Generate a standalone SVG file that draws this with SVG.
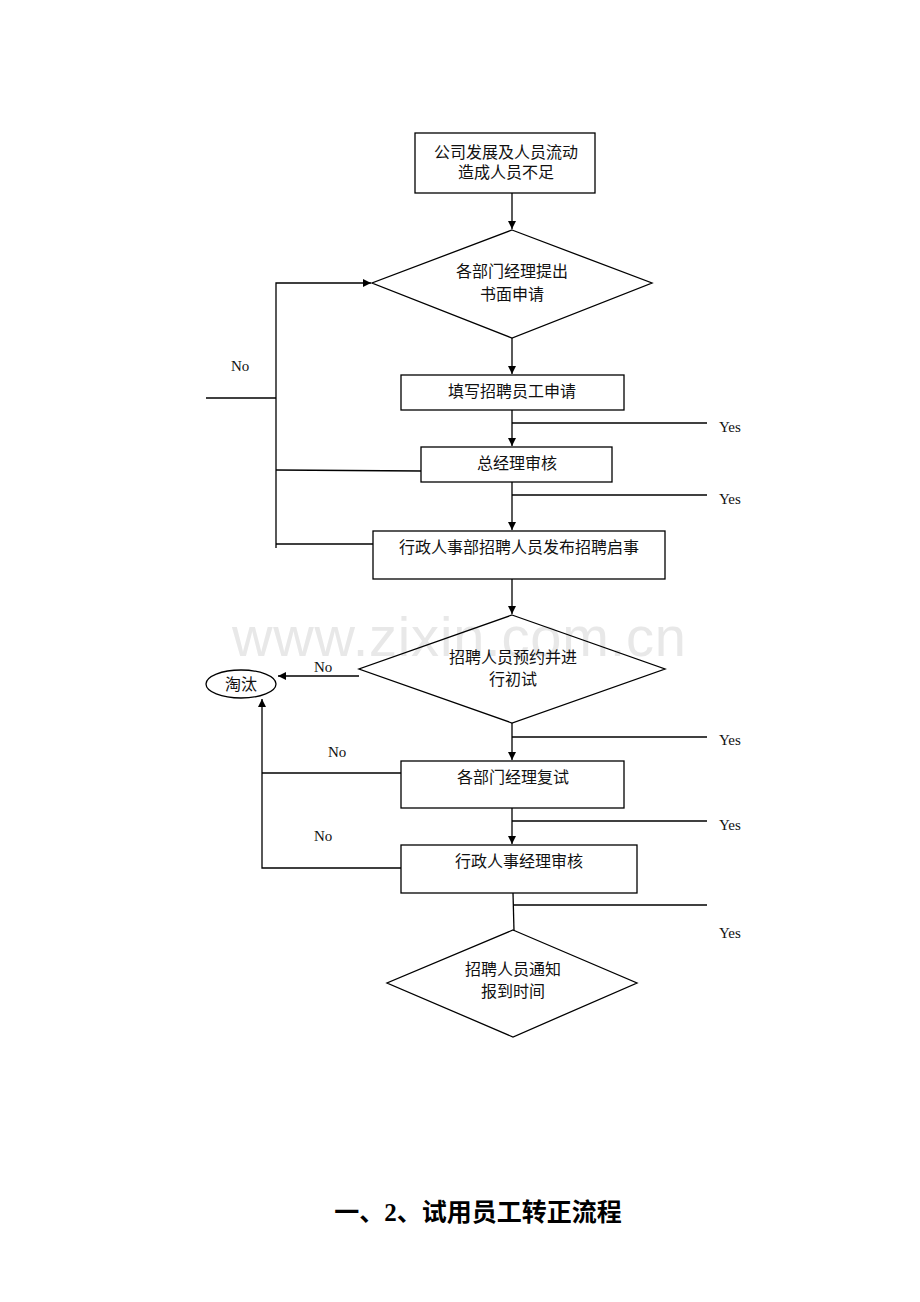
<svg xmlns="http://www.w3.org/2000/svg" width="920" height="1302" viewBox="0 0 920 1302">
<style>
.s{fill:none;stroke:#000;stroke-width:1.3}
.l{fill:none;stroke:#000;stroke-width:1.3}
.t{font-family:"Liberation Serif","Noto Sans CJK SC",serif;font-size:16px;fill:#111;text-anchor:middle}
.e{font-family:"Liberation Serif",serif;font-size:15px;fill:#111}
.wm{font-family:"Liberation Sans",Arial,sans-serif;font-size:56px;fill:#e8e8e8}
</style>
<defs>
<marker id="a" viewBox="0 0 10 10" refX="10" refY="5" markerWidth="8" markerHeight="8" markerUnits="userSpaceOnUse" orient="auto"><path d="M0,0L10,5L0,10z" fill="#000"/></marker>
</defs>
<rect width="920" height="1302" fill="#fff"/>
<text class="wm" x="232" y="656" textLength="454">www.zixin.com.cn</text>
<g id="connectors">
<line class="l" x1="512" y1="193" x2="512" y2="229" marker-end="url(#a)"/>
<line class="l" x1="512" y1="338" x2="512" y2="374" marker-end="url(#a)"/>
<line class="l" x1="512" y1="410" x2="512" y2="446" marker-end="url(#a)"/>
<line class="l" x1="512" y1="423" x2="707" y2="423"/>
<line class="l" x1="512" y1="482" x2="512" y2="530" marker-end="url(#a)"/>
<line class="l" x1="512" y1="495" x2="707" y2="495"/>
<line class="l" x1="512" y1="579" x2="512" y2="614" marker-end="url(#a)"/>
<polyline class="l" points="276,548 276,283 371,283" marker-end="url(#a)"/>
<line class="l" x1="206" y1="398" x2="276" y2="398"/>
<line class="l" x1="276" y1="470" x2="421" y2="471"/>
<line class="l" x1="276" y1="544" x2="373" y2="544"/>
<line class="l" x1="359" y1="676" x2="278" y2="676" marker-end="url(#a)"/>
<line class="l" x1="512" y1="723" x2="512" y2="760" marker-end="url(#a)"/>
<line class="l" x1="512" y1="737" x2="707" y2="737"/>
<polyline class="l" points="401,773 262,773"/>
<polyline class="l" points="401,868 262,868 262,699" marker-end="url(#a)"/>
<line class="l" x1="512" y1="808" x2="512" y2="844" marker-end="url(#a)"/>
<line class="l" x1="512" y1="821" x2="707" y2="821"/>
<line class="l" x1="513" y1="893" x2="514" y2="931"/>
<line class="l" x1="513" y1="905" x2="707" y2="905"/>
<text class="e" x="231" y="371">No</text>
<text class="e" x="314" y="672">No</text>
<text class="e" x="328" y="757">No</text>
<text class="e" x="314" y="841">No</text>
<text class="e" x="719" y="432">Yes</text>
<text class="e" x="719" y="504">Yes</text>
<text class="e" x="719" y="745">Yes</text>
<text class="e" x="719" y="830">Yes</text>
<text class="e" x="719" y="938">Yes</text>
</g>
<g id="n1"><rect class="s" x="415" y="133" width="180" height="60"/><text class="t" x="506" y="158">公司发展及人员流动</text><text class="t" x="506" y="178">造成人员不足</text></g>
<g id="n2"><polygon class="s" points="512,230 652,283 512,338 372,283"/><text class="t" x="512" y="277">各部门经理提出</text><text class="t" x="512" y="300">书面申请</text></g>
<g id="n3"><rect class="s" x="401" y="375" width="223" height="35"/><text class="t" x="512" y="397">填写招聘员工申请</text></g>
<g id="n4"><rect class="s" x="421" y="447" width="191" height="35"/><text class="t" x="517" y="469">总经理审核</text></g>
<g id="n5"><rect class="s" x="373" y="531" width="292" height="48"/><text class="t" x="519" y="553">行政人事部招聘人员发布招聘启事</text></g>
<g id="n6"><polygon class="s" points="512,615 665,669 512,723 359,669"/><text class="t" x="513" y="663">招聘人员预约并进</text><text class="t" x="513" y="685">行初试</text></g>
<g id="n7"><ellipse class="s" cx="241" cy="684" rx="35" ry="14"/><text class="t" x="241" y="690">淘汰</text></g>
<g id="n8"><rect class="s" x="401" y="761" width="223" height="47"/><text class="t" x="513" y="783">各部门经理复试</text></g>
<g id="n9"><rect class="s" x="401" y="845" width="236" height="48"/><text class="t" x="519" y="867">行政人事经理审核</text></g>
<g id="n10"><polygon class="s" points="513,930 637,983 513,1037 387,983"/><text class="t" x="513" y="975">招聘人员通知</text><text class="t" x="513" y="997">报到时间</text></g>
<g id="title"><text x="478" y="1221" style="font-family:'Liberation Serif','Noto Sans CJK SC',serif;font-size:25px;font-weight:bold;fill:#000;text-anchor:middle">一、2、试用员工转正流程</text></g>
</svg>
